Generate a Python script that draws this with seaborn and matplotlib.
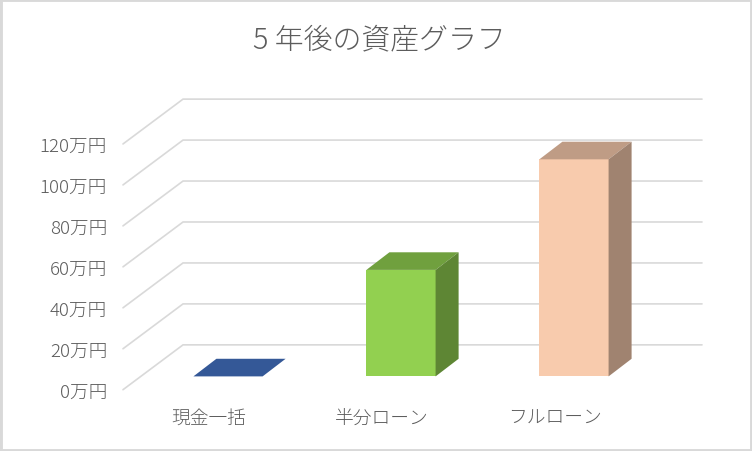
import numpy as np
import pandas as pd
import matplotlib
matplotlib.use("Agg")
import matplotlib.pyplot as plt
from matplotlib.patches import Rectangle
from matplotlib.colors import to_rgb
import seaborn as sns

categories = ["現金一括", "半分ローン", "フルローン"]
values = [0, 52, 106]
bar_colors = ["#4472C4", "#92D050", "#F8CBAD"]
y_ticks = [0, 20, 40, 60, 80, 100, 120]
y_labels = ["0万円", "20万円", "40万円", "60万円", "80万円", "100万円", "120万円"]
title = "5 年後の資産グラフ"

text_color = "#5C5C5C"
grid_color = "#D9D9D9"

# fake 3D: depth of the bars and of the floor, in data units
bar_width = 0.4
bar_dx, bar_dy = 0.133, 8.6
front_x, front_y = -0.607, -6.5
back_x, back_y = -0.26, 15.4
right_x = 2.74
top_y = 135.8


def shade(color, factor):
    return tuple(c * factor for c in to_rgb(color))


sns.set_theme(style="white")
plt.rcParams["font.family"] = ["Noto Sans CJK JP", "DejaVu Sans"]
plt.rcParams["font.weight"] = "light"

fig = plt.figure(figsize=(7.52, 4.52), dpi=100)
ax = fig.add_axes([123 / 752, 1 - 390.7 / 452, (702 - 123) / 752, (390.7 - 99.3) / 452])

df = pd.DataFrame({"category": categories, "value": values})
sns.barplot(data=df, x="category", y="value", hue="category", palette=bar_colors,
            width=bar_width, legend=False, saturation=1, linewidth=0, ax=ax, zorder=3)

# grid lines: along the back wall, then down the side to the front
for v in y_ticks:
    ax.plot([front_x, back_x, right_x],
            [v + front_y, v + back_y, v + back_y],
            color=grid_color, lw=1.2, zorder=1, clip_on=False, solid_joinstyle="miter")

# top and side faces of each bar
for i, v in enumerate(values):
    left = i - bar_width / 2
    right = i + bar_width / 2
    ax.fill([left, right, right + bar_dx, left + bar_dx],
            [v, v, v + bar_dy, v + bar_dy],
            color=shade(bar_colors[i], 0.77), lw=0, zorder=4, clip_on=False)
    ax.fill([right, right + bar_dx, right + bar_dx, right],
            [0, bar_dy, v + bar_dy, v],
            color=shade(bar_colors[i], 0.645), lw=0, zorder=4, clip_on=False)

ax.set_xlim(front_x, right_x)
ax.set_ylim(front_y, top_y)
ax.set_xticks(np.arange(len(categories)) - 0.11)
ax.set_xticklabels(categories)
ax.set_yticks(np.array(y_ticks) + front_y)
ax.set_yticklabels(y_labels)
ax.tick_params(axis="x", length=0, pad=13.5, labelsize=13.5, colors=text_color)
ax.tick_params(axis="y", length=0, pad=11.5, labelsize=13.4, colors=text_color)
ax.set_xlabel("")
ax.set_ylabel("")
sns.despine(ax=ax, left=True, bottom=True)
ax.patch.set_alpha(0)

fig.text(379.5 / 752, 1 - 40.5 / 452, title, ha="center", va="center", fontsize=20.8, color=text_color)

# chart frame
fig.add_artist(Rectangle((0, 0), 1, 1, transform=fig.transFigure, fill=False,
                         edgecolor="#D9D9D9", lw=3.5))

fig.savefig("out.png", dpi=100)
